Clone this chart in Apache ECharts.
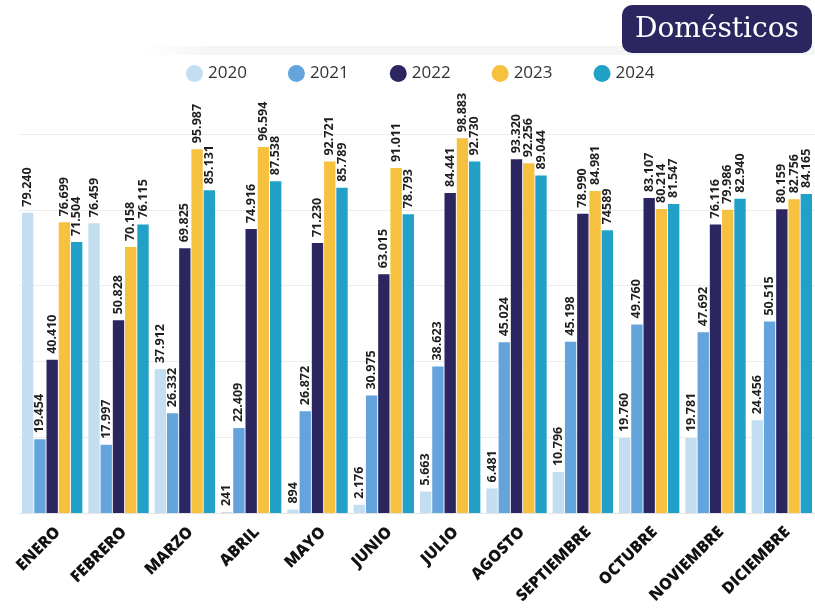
<!DOCTYPE html>
<html>
<head>
    <meta charset="utf-8">
    <title>Domésticos</title>
    <script src="https://cdn.jsdelivr.net/npm/echarts@6/dist/echarts.min.js"></script>
    <style>
        html, body { margin: 0; padding: 0; background: #fff; }
        #chart { width: 815px; height: 610px; }
    </style>
</head>
<body>
    <div id="chart"></div>
    <script type="text/javascript">
        var months = ['ENERO', 'FEBRERO', 'MARZO', 'ABRIL', 'MAYO', 'JUNIO', 'JULIO',
            'AGOSTO', 'SEPTIEMBRE', 'OCTUBRE', 'NOVIEMBRE', 'DICIEMBRE'];
        var years = ['2020', '2021', '2022', '2023', '2024'];

        var v2020 = [79240, 76459, 37912, 241, 894, 2176, 5663, 6481, 10796, 19760, 19781, 24456];
        var v2021 = [19454, 17997, 26332, 22409, 26872, 30975, 38623, 45024, 45198, 49760, 47692, 50515];
        var v2022 = [40410, 50828, 69825, 74916, 71230, 63015, 84441, 93320, 78990, 83107, 76116, 80159];
        var v2023 = [76699, 70158, 95987, 96594, 92721, 91011, 98883, 92256, 84981, 80214, 79986, 82756];
        var v2024 = [71504, 76115, 85131, 87538, 85789, 78793, 92730, 89044, 74589, 81547, 82940, 84165];

        // one label in the source is printed without the thousands dot
        var rawLabels = { '2024-8': '74589' };

        var colors = ['#c3ddf1', '#63a4dc', '#2b2660', '#f5c13f', '#21a0c8'];
        var allValues = [v2020, v2021, v2022, v2023, v2024];

        function fmt(name, idx, val) {
            var key = name + '-' + idx;
            if (rawLabels[key]) return rawLabels[key];
            return String(val).replace(/\B(?=(\d{3})+(?!\d))/g, '.');
        }

        var chart = echarts.init(document.getElementById('chart'));

        var series = years.map(function (y, i) {
            return {
                name: y,
                type: 'bar',
                data: allValues[i],
                barGap: '8%',
                barCategoryGap: '9%',
                itemStyle: { color: colors[i] },
                label: {
                    show: true,
                    position: 'top',
                    rotate: 90,
                    align: 'left',
                    verticalAlign: 'middle',
                    distance: 6,
                    fontFamily: 'Open Sans',
                    fontWeight: 'bold',
                    fontSize: 12.5,
                    color: '#1e1e1e',
                    formatter: function (p) { return fmt(y, p.dataIndex, p.value); }
                }
            };
        });

        var option = {
            backgroundColor: '#fff',
            animation: false,
            graphic: [
                {
                    type: 'rect',
                    left: 140, top: 46,
                    shape: { width: 675, height: 9 },
                    style: {
                        fill: new echarts.graphic.LinearGradient(0, 0, 1, 0, [
                            { offset: 0, color: 'rgba(244,246,244,0)' },
                            { offset: 0.1, color: 'rgba(244,246,244,1)' },
                            { offset: 1, color: 'rgba(244,246,244,1)' }
                        ])
                    },
                    z: 0
                },
                {
                    type: 'group',
                    left: 622, top: 5,
                    children: [
                        {
                            type: 'rect',
                            shape: { width: 190, height: 48, r: 10 },
                            style: { fill: '#2b2660' }
                        },
                        {
                            type: 'text',
                            x: 95, y: 25,
                            style: {
                                text: 'Domésticos',
                                fill: '#fff',
                                font: '28px "DejaVu Serif"',
                                align: 'center',
                                verticalAlign: 'middle'
                            }
                        }
                    ]
                }
            ],
            legend: {
                top: 60,
                left: 181,
                itemGap: 41,
                icon: 'circle',
                itemWidth: 17,
                itemHeight: 17,
                textStyle: { fontFamily: 'Open Sans', fontSize: 17, color: '#333' },
                data: years
            },
            grid: {
                left: 19,
                top: 134,
                width: 804,
                height: 379
            },
            xAxis: {
                type: 'category',
                data: months,
                axisTick: { show: false },
                axisLine: { lineStyle: { color: '#e4e4e4' } },
                axisLabel: {
                    rotate: 45,
                    interval: 0,
                    margin: 11,
                    verticalAlign: 'top',
                    fontFamily: 'Open Sans',
                    fontWeight: 800,
                    fontSize: 16,
                    color: '#111'
                }
            },
            yAxis: {
                type: 'value',
                min: 0,
                max: 100000,
                interval: 20000,
                axisLabel: { show: false },
                axisLine: { show: false },
                axisTick: { show: false },
                splitLine: { lineStyle: { color: '#ececec' } }
            },
            series: series
        };

        chart.setOption(option);
    </script>
</body>
</html>
